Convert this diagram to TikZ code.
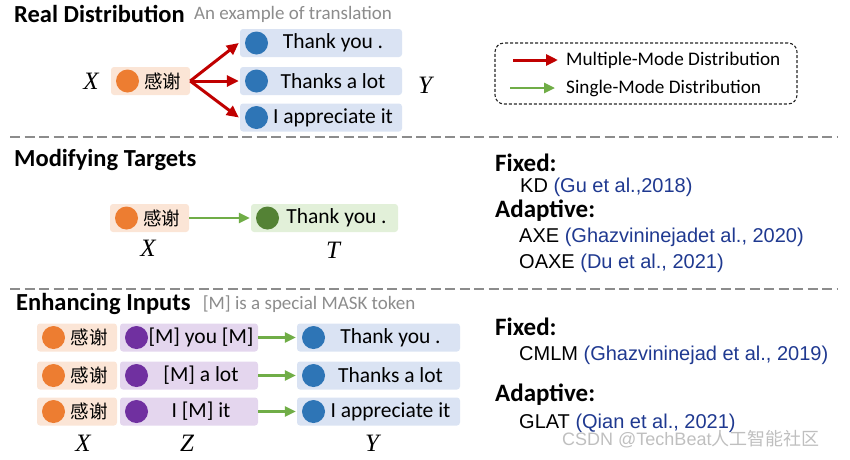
\documentclass[tikz,border=0pt]{standalone}
\usepackage{fontspec}
\setmainfont{Carlito}
\newfontfamily\cjkfont{Noto Sans CJK SC}
\newfontfamily\citefont{Liberation Sans}
\newfontfamily\varfont{Liberation Serif}
\usepackage{tikz}
\usetikzlibrary{arrows.meta, positioning}
\definecolor{srcfill}{HTML}{FBE5D6}
\definecolor{srcdot}{HTML}{ED7D31}
\definecolor{tgtfill}{HTML}{DAE3F3}
\definecolor{tgtdot}{HTML}{2E75B6}
\definecolor{kdfill}{HTML}{E2F0D9}
\definecolor{kddot}{HTML}{548235}
\definecolor{maskfill}{HTML}{E4D6EE}
\definecolor{maskdot}{HTML}{7030A0}
\definecolor{multired}{HTML}{C00000}
\definecolor{singlegreen}{HTML}{70AD47}
\definecolor{citeblue}{HTML}{1F3990}
\definecolor{sepgray}{HTML}{8C8C8C}
\newcommand{\xie}{{\cjkfont\fontsize{18.5}{20}\selectfont 感谢}}
\newcommand{\refitem}[2]{{\citefont #1 \textcolor{citeblue}{#2}}}

\begin{document}
\begin{tikzpicture}[x=1pt, y=-1pt,
      %% token boxes: dot on the left, text after it
      tok/.style={rectangle, rounded corners=3pt, minimum height=28pt, inner sep=0pt,
                  font=\fontsize{21.5}{24}\selectfont,
                  execute at begin node=\hspace*{24pt},
                  path picture={\fill[#1] ([xshift=16.5pt]path picture bounding box.west)
                                circle (11.5pt);}},
      srcbox/.style={tok=srcdot, fill=srcfill, minimum width=79pt},
      tgtbox/.style={tok=tgtdot, fill=tgtfill, minimum width=#1},
      kdbox/.style={tok=kddot, fill=kdfill, minimum width=147pt},
      maskbox/.style={tok=maskdot, fill=maskfill, minimum width=138pt},
      var/.style={font=\varfont\itshape\fontsize{25}{25}\selectfont, inner sep=0pt},
      head/.style={anchor=west, inner sep=0pt, font=\bfseries\fontsize{24.5}{26}\selectfont},
      note/.style={anchor=west, inner sep=0pt, text=sepgray, font=\fontsize{19}{20}\selectfont},
      kind/.style={anchor=west, inner sep=0pt, font=\bfseries\fontsize{25}{26}\selectfont},
      work/.style={anchor=west, inner sep=0pt, font=\fontsize{20}{22}\selectfont},
      lgd/.style={anchor=west, inner sep=0pt, font=\fontsize{19.2}{22}\selectfont},
      multi/.style={-{Triangle[length=12pt,width=11pt]}, draw=multired, line width=3pt},
      single/.style={-{Triangle[length=11pt,width=10pt]}, draw=singlegreen, line width=2.6pt},
      sep/.style={draw=sepgray, line width=2.4pt, dash pattern=on 10pt off 4.5pt},
    ]
    \useasboundingbox (0,0) rectangle (850,459);

    %% ── Real distribution ──────────────────────────────────────────────
    \node[head] (realhd) at (14,14) {Real Distribution};
    \node[note, right=9pt of realhd] (realnote) {An example of translation};

    \node[srcbox] (src) at (150.5,81) {\xie};
    \node[var, left=12pt of src] (srcX) {X};
    \node[tgtbox=162pt] (ya) at (321,43) {Thank you .};
    \node[tgtbox=162pt] (yb) at (321,81) {Thanks a lot};
    \node[tgtbox=162pt] (yc) at (321,117.5) {I appreciate it};
    \node[var] (tgtY) at (425,85) {Y};

    \draw[multi] (src.east) -- ([xshift=-1pt]ya.west);
    \draw[multi] (src.east) -- ([xshift=-1pt]yb.west);
    \draw[multi] (src.east) -- ([xshift=-1pt]yc.west);

    %% legend
    \node[draw=black!85, line width=1.1pt, dash pattern=on 3pt off 2pt, rounded corners=9pt,
          minimum width=302pt, minimum height=61pt] (legend) at (646,73.5) {};
    \node[lgd] (lgmulti) at (566,60) {Multiple-Mode Distribution};
    \node[lgd] (lgsingle) at (566,88) {Single-Mode Distribution};
    \coordinate (lgm) at (513,60);
    \coordinate (lgs) at (510,88);
    \draw[multi, shorten >=8pt] (lgm) -- (lgmulti.west);
    \draw[single, shorten >=11pt] (lgs) -- (lgsingle.west);

    \draw[sep] (10,137) -- (838,137);

    %% ── Modifying targets ──────────────────────────────────────────────
    \node[head] (modhd) at (14,160) {Modifying Targets};

    \node[srcbox] (src2) at (149.5,218) {\xie};
    \node[kdbox] (kd) at (324.5,218) {Thank you .};
    \node[var] (src2X) at (148,248) {X};
    \node[var] (kdT) at (333,250) {T};
    \draw[single] (src2.east) -- ([xshift=-1pt]kd.west);

    \node[kind] (fixA) at (495,163) {Fixed:};
    \node[work] (kdref) at (520,187) {\refitem{KD}{(Gu et al.,2018)}};
    \node[kind] (adaA) at (495,211) {Adaptive:};
    \node[work] (axeref) at (519,237) {\refitem{AXE}{(Ghazvininejadet al., 2020)}};
    \node[work] (oaxeref) at (519,263) {\refitem{OAXE}{(Du et al., 2021)}};

    \draw[sep] (10,289) -- (838,289);

    %% ── Enhancing inputs ───────────────────────────────────────────────
    \node[head] (enhd) at (16,304) {Enhancing Inputs};
    \node[note, right=12pt of enhd] (ennote) {[M] is a special MASK token};

    \foreach \i/\y/\msk/\out in {1/337.5/{[M] you [M]}/{Thank you .},
                                 2/375.5/{[M] a lot}/{Thanks a lot},
                                 3/411.5/{I [M] it}/{I appreciate it}}{
      \node[srcbox, minimum width=80pt] (zx\i) at (77,\y) {\xie};
      \node[maskbox] (zm\i) at (189,\y) {\msk};
      \node[tgtbox=163pt] (zy\i) at (378.5,\y) {\out};
      \draw[single] (zm\i.east) -- ([xshift=-1pt]zy\i.west);
    }
    \node[var] (enX) at (83,443) {X};
    \node[var] (enZ) at (187,443) {Z};
    \node[var] (enY) at (372,443) {Y};

    \node[kind] (fixB) at (495,327) {Fixed:};
    \node[work] (cmlmref) at (519,355) {\refitem{CMLM}{(Ghazvininejad et al., 2019)}};
    \node[kind] (adaB) at (495,395) {Adaptive:};
    \node[work] (glatref) at (519,423) {\refitem{GLAT}{(Qian et al., 2021)}};

    \node[anchor=west, inner sep=0pt, text=black!25, font=\fontsize{18}{20}\selectfont]
      (mark) at (562,439) {\citefont CSDN @TechBeat\cjkfont 人工智能社区};
  \end{tikzpicture}
\end{document}
